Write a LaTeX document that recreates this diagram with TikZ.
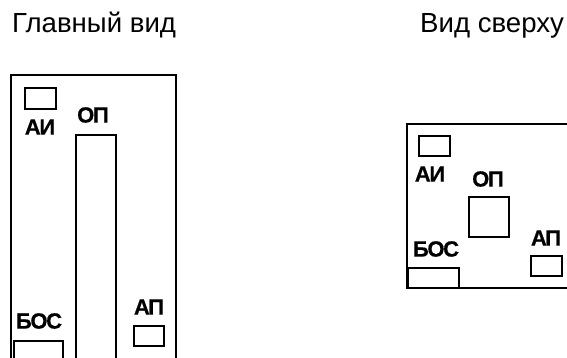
\documentclass[tikz,border=0pt]{standalone}
\usepackage{fontspec}
\setmainfont{Liberation Sans}
\newfontfamily\unitfont[LetterSpace=-6,BoldFeatures={FakeBold=0.6}]{Liberation Sans}
\usetikzlibrary{positioning}
\tikzset{
	unitbox/.style 2 args={draw,line width=1.8pt,inner sep=0pt,outer sep=0pt,minimum width=#1pt,minimum height=#2pt},
	unitname/.style={inner sep=0pt,font=\fontsize{22}{22}\selectfont\unitfont\bfseries},
	viewname/.style={inner sep=0pt,anchor=base west,font=\fontsize{27.6}{27.6}\selectfont},
	frameline/.style={line width=2pt,line cap=rect},
}
\begin{document}
\begin{tikzpicture}[x=1pt,y=-1pt]
\useasboundingbox (0,0) rectangle (567,358);
%Titles
\node[viewname] (mainview) at (12,32.5) {Главный вид};
\node[viewname] (topview) at (420,32.5) {Вид сверху};

%Main view
\coordinate (mbl) at (11,360);
\coordinate (mbr) at (176,360);
\draw[frameline] (mbl) |- (11,75) -| (mbr);
\node[unitbox={31}{21}] (mai) at (40.5,98.5) {};
\node[unitbox={40}{232}] (mop) at (96,251) {};
\node[unitbox={30}{20}] (map) at (149,336) {};
\node[unitbox={49}{28}] (mbos) at (38.5,355) {};
\node[unitname] (maitext) at (40,127) {АИ};
\node[unitname] (moptext) at (93,115) {ОП};
\node[unitname] (maptext) at (149,307) {АП};
\node[unitname] (mbostext) at (39,321) {БОС};

%Top view
\coordinate (tbr) at (567,288);
\coordinate (ttr) at (567,124);
\draw[frameline] (ttr) -| (407,288) -- (tbr);
\node[unitbox={31}{20}] (tai) at (434.5,146) {};
\node[unitbox={40}{40}] (top) at (489,217) {};
\node[unitbox={31}{20}] (tap) at (546.5,266) {};
\node[unitbox={51}{20}] (tbos) at (433.5,278) {};
\node[unitname] (taitext) at (430,174) {АИ};
\node[unitname] (toptext) at (488,179) {ОП};
\node[unitname] (taptext) at (546,238) {АП};
\node[unitname] (tbostext) at (436,249) {БОС};
\end{tikzpicture}
\end{document}
